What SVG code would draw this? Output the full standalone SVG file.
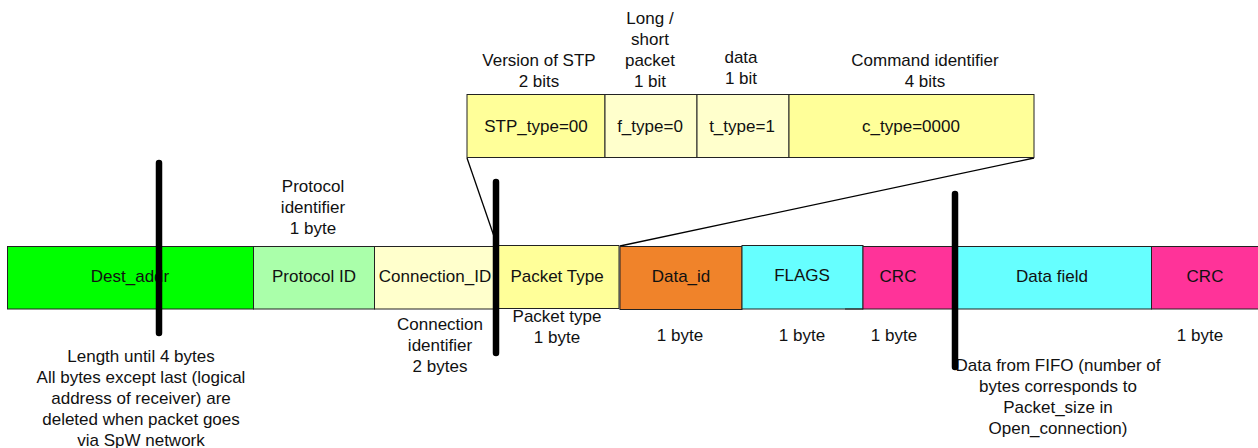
<svg xmlns="http://www.w3.org/2000/svg" width="1258" height="448" viewBox="0 0 1258 448">
<style>
text{font-family:"Liberation Sans",Arial,sans-serif;font-size:17px;fill:#111;text-anchor:middle}
.f{stroke:#222;stroke-width:1}
.bar{stroke:#000;stroke-width:6.5;stroke-linecap:round;fill:none}
.ln{stroke:#000;stroke-width:1.3;fill:none}
</style>
<rect width="1258" height="448" fill="#fff"/>
<g id="connectors">
<line class="ln" x1="467" y1="158" x2="497" y2="245"/>
<line class="ln" x1="1034" y1="158" x2="620" y2="246"/>
</g>
<g id="stp_type"><rect class="f" x="467" y="94.5" width="138" height="63" fill="#FFFF99"/><text x="536" y="132">STP_type=00</text></g>
<g id="f_type"><rect class="f" x="605" y="94.5" width="92" height="63" fill="#FFFFCC"/><text x="650" y="132">f_type=0</text></g>
<g id="t_type"><rect class="f" x="697" y="94.5" width="92" height="63" fill="#FFFFCC"/><text x="742" y="132">t_type=1</text></g>
<g id="c_type"><rect class="f" x="789" y="94.5" width="245" height="63" fill="#FFFF99"/><text x="911" y="132">c_type=0000</text></g>
<g id="lbl_version"><text x="539" y="66">Version of STP</text><text x="539" y="87">2 bits</text></g>
<g id="lbl_long"><text x="650" y="24">Long /</text><text x="650" y="45">short</text><text x="650" y="66">packet</text><text x="650" y="87">1 bit</text></g>
<g id="lbl_data"><text x="741" y="63">data</text><text x="741" y="84">1 bit</text></g>
<g id="lbl_cmd"><text x="925" y="66">Command identifier</text><text x="925" y="87">4 bits</text></g>
<g id="dest_addr"><rect class="f" x="7.5" y="246.5" width="246" height="62.5" fill="#00FF00"/><text x="130" y="282">Dest_addr</text></g>
<g id="protocol_id"><rect class="f" x="253.5" y="246.5" width="121" height="62.5" fill="#AAFFAA"/><text x="314" y="282">Protocol ID</text></g>
<g id="connection_id"><rect class="f" x="374.5" y="246.5" width="123" height="62.5" fill="#FFFFCC"/><text x="435" y="282">Connection_ID</text></g>
<g id="packet_type"><rect class="f" x="497.5" y="245.5" width="121.5" height="63" fill="#FFFF99"/><text x="557" y="282">Packet Type</text></g>
<g id="data_id"><rect class="f" x="620" y="246.5" width="122" height="63" fill="#F0832A"/><text x="681" y="282">Data_id</text></g>
<g id="flags"><rect class="f" x="742" y="245.5" width="121" height="63.5" fill="#66FFFF"/><text x="802" y="281">FLAGS</text><line class="f" x1="845" y1="309" x2="863" y2="309"/></g>
<g id="crc1"><rect class="f" x="863" y="246.5" width="92" height="62.5" fill="#FF3399"/><text x="898" y="282">CRC</text></g>
<g id="data_field"><rect class="f" x="955" y="246.5" width="196.5" height="62.5" fill="#66FFFF"/><text x="1052" y="282">Data field</text></g>
<g id="crc2"><rect class="f" x="1151.5" y="246.5" width="110" height="62.5" fill="#FF3399"/><text x="1205" y="282">CRC</text></g>
<g id="lbl_protocol"><text x="313" y="192">Protocol</text><text x="313" y="213">identifier</text><text x="313" y="234">1 byte</text></g>
<g id="lbl_length"><text x="141" y="362">Length until 4 bytes</text><text x="141" y="383">All bytes except last (logical</text><text x="141" y="404">address of receiver) are</text><text x="141" y="425">deleted when packet goes</text><text x="141" y="446">via SpW network</text></g>
<g id="lbl_connection"><text x="440" y="330">Connection</text><text x="440" y="351">identifier</text><text x="440" y="372">2 bytes</text></g>
<g id="lbl_packet"><text x="557" y="322">Packet type</text><text x="557" y="343">1 byte</text></g>
<g id="lbl_bytes"><text x="680" y="341">1 byte</text><text x="802" y="341">1 byte</text><text x="894" y="341">1 byte</text><text x="1200" y="341">1 byte</text></g>
<g id="lbl_fifo"><text x="1058" y="371">Data from FIFO (number of</text><text x="1058" y="392">bytes corresponds to</text><text x="1058" y="413">Packet_size in</text><text x="1058" y="434">Open_connection)</text></g>
<g id="bars">
<line class="bar" x1="159" y1="163" x2="159" y2="333"/>
<line class="bar" x1="496" y1="182" x2="496" y2="353"/>
<line class="bar" x1="955" y1="194" x2="955" y2="367"/>
</g>
</svg>
